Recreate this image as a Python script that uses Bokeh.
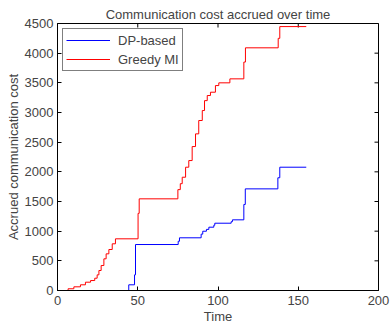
import math
from bokeh.plotting import figure
from bokeh.models import Range1d, FixedTicker, Legend, LegendItem
from bokeh.embed import file_html
from bokeh.resources import INLINE

# DP-based (blue) cumulative cost, step-after series
dp_t = [0, 44.4, 48.0, 48.6, 75.2, 76.0, 89.5, 90.5, 92.8, 94.3, 97.4, 98.0,
        108.2, 109.0, 116.1, 117.0, 137.3, 138.5, 155.0]
dp_v = [0, 96, 264, 775, 830, 888, 950, 999, 1030, 1067, 1100, 1134,
        1160, 1191, 1450, 1713, 1900, 2078, 2078]

# Greedy MI (red) cumulative cost, step-after series
gm_t = [0, 6.6, 10.2, 14.3, 17.4, 20.6, 23.2, 24.7, 25.8, 27.2, 28.9, 30.3, 32.0,
        34.1, 36.1, 50.2, 50.9, 75.0, 76.5, 77.7, 79.8, 81.8, 83.9, 86.0, 88.0,
        90.2, 91.6, 93.3, 95.3, 98.4, 100.5, 107.4, 116.1, 117.1, 137.5, 138.5, 155.0]
gm_v = [0, 29, 62, 96, 140, 168, 207, 264, 337, 421, 534, 618, 691,
        787, 871, 1300, 1545, 1700, 1800, 1909, 2078, 2190, 2426, 2640, 2865,
        3033, 3200, 3286, 3342, 3454, 3500, 3567, 3850, 4090, 4250, 4448, 4448]

x_ticks = [0, 50, 100, 150, 200]
y_ticks = [0, 500, 1000, 1500, 2000, 2500, 3000, 3500, 4000, 4500]
x_max = 200
y_max = 4500

FONT = "Liberation Sans"

p = figure(frame_width=321, frame_height=267, output_backend="svg", toolbar_location=None,
           x_range=Range1d(0, x_max), y_range=Range1d(0, y_max),
           min_border_left=57, min_border_right=14, min_border_top=23,
           min_border_bottom=36, background_fill_color="white",
           border_fill_color="white")

p.title.text = "Communication cost accrued over time"
p.title.align = "center"
p.title.text_font = FONT
p.title.text_font_size = "13px"
p.title.text_font_style = "normal"
p.title.standoff = 4
p.title.offset = 0

p.grid.visible = False
p.outline_line_color = "black"
p.outline_line_width = 1

for ax in (p.xaxis[0], p.yaxis[0]):
    ax.major_tick_in = 4
    ax.major_tick_out = 0
    ax.minor_tick_line_color = None
    ax.major_label_text_font = FONT
    ax.major_label_text_font_size = "13px"
    ax.axis_label_text_font = FONT
    ax.axis_label_text_font_size = "13px"
    ax.axis_label_text_font_style = "normal"
    ax.axis_line_color = "black"
    ax.major_tick_line_color = "black"

p.xaxis[0].ticker = FixedTicker(ticks=x_ticks)
p.yaxis[0].ticker = FixedTicker(ticks=y_ticks)
p.xaxis[0].axis_label = "Time"
p.yaxis[0].axis_label = "Accrued communication cost"
p.xaxis[0].major_label_standoff = 5
p.xaxis[0].axis_label_standoff = 1
p.yaxis[0].major_label_standoff = 4
p.yaxis[0].axis_label_standoff = 1

# inward tick marks on the top and right edges of the box (clipped half outside)
p.scatter(x_ticks, [y_max] * len(x_ticks), marker="dash", angle=math.pi / 2,
          size=8, line_color="black", line_width=1)
p.scatter([x_max] * len(y_ticks), y_ticks, marker="dash", angle=0,
          size=8, line_color="black", line_width=1)

r_dp = p.step(dp_t, dp_v, mode="after", line_color="#0000ff", line_width=1)
r_gm = p.step(gm_t, gm_v, mode="after", line_color="#ff0000", line_width=1)

legend = Legend(items=[LegendItem(label="DP-based", renderers=[r_dp]),
                       LegendItem(label="Greedy MI", renderers=[r_gm])],
                location="top_left")
legend.margin = 5
legend.padding = 3
legend.spacing = 3
legend.glyph_width = 44
legend.glyph_height = 16
legend.label_height = 16
legend.label_standoff = 8
legend.label_text_font = FONT
legend.label_text_font_size = "13px"
legend.border_line_color = "black"
legend.border_line_width = 1
legend.background_fill_alpha = 1
p.add_layout(legend, "center")

open("out.html", "w").write(file_html(p, INLINE))
